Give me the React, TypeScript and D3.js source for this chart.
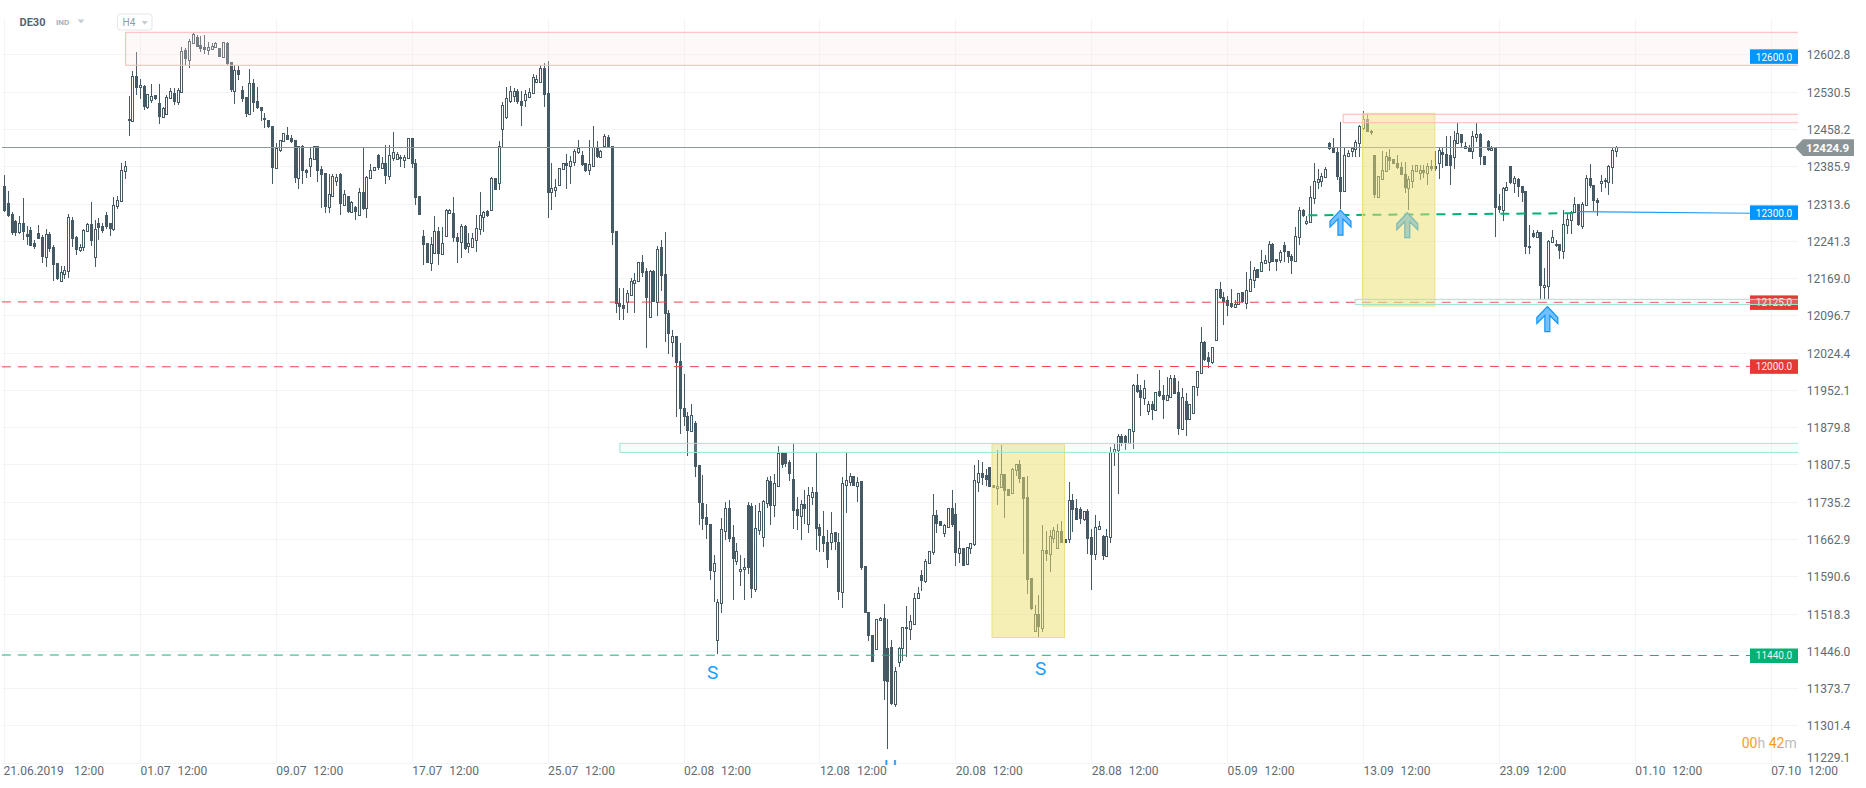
import React from "react";
import * as d3 from "d3";

type Row = [number, number, number, number]; // open, high, low, close

const juneCandles: Row[] = [
[12350,12371,12300,12302],[12317,12340,12289,12292],[12296,12300,12255,12259],[12282,12283,12252,12258],[12260,12291,12257,12278],[12278,12327,12245,12261],
[12257,12273,12236,12251],[12265,12271,12234,12234],[12240,12245,12228,12232],[12258,12274,12247,12247],[12251,12254,12201,12212],[12212,12266,12193,12256],
[12256,12261,12222,12228],[12232,12236,12166,12197],[12200,12201,12168,12170],[12166,12194,12166,12183],[12179,12195,12170,12187],[12184,12296,12172,12290],
[12284,12289,12232,12247],[12251,12253,12216,12226],[12226,12237,12222,12231],[12232,12267,12224,12264],[12262,12278,12262,12276],[12276,12319,12234,12243],
[12212,12284,12193,12267],[12278,12288,12245,12269],[12273,12278,12259,12263],[12294,12300,12267,12271],[12278,12278,12253,12267],[12267,12329,12263,12313],
[12311,12331,12306,12323],[12320,12395,12319,12381],[12378,12399,12364,12389],
];
const julyCandles: Row[] = [
[12479,12524,12447,12475],[12475,12573,12475,12563],[12563,12609,12526,12539],[12541,12557,12519,12545],[12544,12546,12497,12504],[12504,12528,12500,12528],
[12517,12548,12510,12525],[12526,12526,12517,12519],[12511,12547,12470,12484],[12484,12504,12483,12501],[12490,12526,12489,12522],[12520,12539,12520,12535],
[12531,12539,12506,12513],[12513,12539,12506,12536],[12533,12619,12533,12612],[12614,12617,12585,12596],[12594,12635,12578,12631],[12628,12647,12628,12645],
[12638,12643,12620,12620],[12623,12641,12610,12616],[12620,12643,12606,12614],[12614,12630,12604,12619],[12616,12627,12616,12621],[12620,12630,12620,12627],
[12618,12618,12601,12601],[12601,12630,12601,12629],[12627,12630,12585,12586],[12590,12590,12533,12536],[12535,12585,12509,12574],[12575,12583,12555,12565],
[12536,12544,12513,12519],[12523,12523,12484,12490],[12490,12577,12488,12549],[12549,12557,12494,12511],[12515,12541,12500,12502],[12504,12504,12475,12495],
[12481,12491,12462,12477],[12477,12477,12462,12464],[12466,12466,12354,12385],[12385,12433,12385,12423],[12420,12440,12416,12440],[12438,12452,12437,12452],
[12449,12464,12439,12439],[12442,12449,12434,12436],[12440,12440,12355,12366],[12366,12427,12344,12427],[12427,12430,12354,12378],[12381,12382,12365,12376],
[12389,12426,12368,12405],[12402,12428,12400,12427],[12427,12427,12357,12379],[12382,12389,12308,12371],[12375,12375,12297,12310],[12310,12374,12297,12334],
[12331,12373,12329,12370],[12360,12374,12349,12367],[12374,12376,12294,12314],[12313,12342,12311,12334],[12330,12330,12298,12300],[12300,12321,12297,12319],
[12310,12311,12283,12299],[12294,12345,12294,12338],[12338,12424,12303,12305],[12307,12370,12288,12368],[12366,12393,12365,12380],[12380,12387,12380,12387],
[12409,12411,12381,12385],[12385,12407,12384,12394],[12394,12429,12353,12370],[12370,12429,12361,12409],[12405,12455,12399,12416],[12403,12416,12402,12411],
[12407,12410,12387,12402],[12400,12409,12384,12407],[12405,12442,12403,12442],[12442,12443,12385,12392],[12394,12402,12312,12327],[12330,12330,12294,12294],
[12253,12264,12197,12235],[12239,12240,12200,12201],[12201,12250,12184,12237],[12219,12292,12219,12263],[12263,12271,12197,12217],[12218,12271,12218,12239],
[12252,12306,12252,12303],[12297,12306,12297,12303],[12297,12329,12242,12248],[12250,12258,12201,12242],[12242,12276,12210,12272],[12272,12274,12226,12227],
[12233,12258,12219,12239],[12231,12258,12229,12248],[12246,12294,12222,12268],[12266,12339,12255,12294],[12290,12302,12261,12300],[12301,12303,12289,12292],
[12303,12367,12303,12365],[12365,12365,12342,12342],[12356,12437,12342,12427],[12461,12513,12426,12506],[12483,12541,12479,12520],[12515,12543,12511,12535],
[12524,12539,12513,12535],[12534,12538,12509,12513],[12515,12534,12466,12505],[12517,12537,12504,12528],[12523,12539,12523,12532],[12531,12568,12528,12562],
[12552,12565,12552,12557],[12552,12584,12552,12579],[12579,12588,12504,12526],[12530,12592,12288,12337],[12339,12394,12303,12345],[12343,12364,12329,12348],
[12352,12384,12352,12384],[12382,12394,12380,12394],[12394,12412,12344,12389],[12389,12408,12354,12399],[12397,12422,12389,12417],[12415,12439,12412,12423],
[12409,12418,12389,12391],[12394,12394,12377,12379],[12380,12439,12371,12392],[12389,12466,12389,12425],[12424,12438,12404,12406],[12407,12420,12407,12417],
[12428,12450,12428,12446],[12444,12449,12425,12426],
];
const augustCandles: Row[] = [
[12427,12427,12235,12259],[12263,12263,12104,12121],[12122,12152,12090,12115],[12119,12151,12090,12111],[12125,12149,12103,12142],[12138,12171,12138,12166],
[12162,12182,12104,12168],[12166,12202,12166,12202],[12202,12216,12174,12182],[12185,12190,12036,12133],[12095,12187,12095,12185],[12185,12187,12124,12124],
[12124,12233,12098,12227],[12231,12246,12147,12176],[12179,12261,12048,12102],[12103,12109,12024,12063],[12048,12070,12019,12058],[12058,12058,11902,12007],
[12010,12045,11868,11918],[11920,11986,11885,11901],[11904,11912,11826,11875],[11875,11927,11873,11905],[11891,11893,11786,11805],[11808,11808,11692,11734],
[11734,11790,11682,11704],[11707,11733,11666,11693],[11695,11695,11585,11602],[11602,11634,11543,11618],[11470,11549,11442,11543],[11540,11705,11521,11684],
[11681,11737,11663,11725],[11725,11741,11660,11666],[11668,11693,11547,11626],[11623,11658,11615,11641],[11602,11634,11573,11606],[11606,11628,11547,11610],
[11731,11736,11597,11608],[11730,11734,11551,11569],[11569,11731,11563,11686],[11682,11734,11673,11719],[11668,11741,11650,11739],[11734,11786,11726,11779],
[11778,11787,11692,11730],[11731,11792,11708,11773],[11768,11846,11768,11831],[11831,11833,11802,11809],[11831,11831,11804,11810],[11814,11818,11778,11791],
[11781,11849,11685,11720],[11723,11747,11682,11710],[11710,11741,11663,11732],[11732,11760,11695,11723],[11694,11766,11676,11750],[11747,11766,11731,11756],
[11756,11831,11644,11685],[11688,11695,11640,11670],[11671,11719,11640,11655],[11659,11682,11609,11624],[11660,11718,11644,11677],[11678,11679,11644,11660],
[11660,11677,11547,11563],[11563,11785,11532,11773],[11770,11831,11715,11779],[11776,11794,11768,11787],[11787,11787,11768,11768],[11767,11786,11737,11776],
[11778,11778,11604,11609],[11613,11613,11522,11522],[11523,11523,11468,11476],[11479,11479,11427,11427],[11451,11510,11450,11509],[11507,11514,11506,11511],
[11511,11539,11353,11390],[11454,11510,11258,11388],[11455,11469,11343,11345],[11345,11417,11340,11409],[11427,11456,11417,11454],[11453,11495,11429,11495],
[11495,11535,11437,11490],[11490,11518,11469,11505],[11500,11560,11498,11550],[11550,11571,11550,11561],[11595,11604,11565,11584],[11584,11626,11579,11622],
[11619,11642,11618,11642],[11639,11752,11634,11711],[11711,11721,11676,11695],[11700,11700,11690,11690],[11677,11695,11668,11692],[11689,11726,11689,11725],
[11726,11760,11689,11692],[11713,11734,11613,11638],[11638,11680,11618,11647],[11647,11647,11613,11613],[11617,11649,11615,11649],[11647,11658,11636,11657],
[11655,11809,11652,11779],[11776,11818,11757,11794],[11794,11814,11770,11784],[11789,11801,11768,11779],[11804,11805,11765,11766],[11769,11769,11763,11763],
[11763,11838,11731,11767],[11765,11847,11763,11791],[11792,11792,11706,11758],[11762,11762,11748,11748],[11755,11802,11755,11800],[11798,11810,11788,11810],
[11810,11818,11774,11781],[11785,11785,11636,11743],[11746,11787,11558,11585],[11589,11589,11527,11529],[11487,11537,11487,11519],[11519,11556,11475,11494],
[11493,11692,11484,11643],[11643,11681,11622,11636],[11635,11682,11601,11671],[11667,11689,11657,11682],[11648,11694,11648,11680],[11680,11700,11658,11658],
[11666,11666,11657,11658],[11666,11775,11657,11740],[11740,11752,11679,11722],[11725,11743,11702,11702],[11723,11728,11695,11704],[11704,11719,11699,11719],
[11719,11723,11636,11665],[11668,11684,11566,11634],[11635,11712,11624,11688],[11685,11700,11683,11690],[11671,11673,11624,11633],[11633,11684,11633,11670],
[11668,11843,11658,11834],[11834,11849,11807,11839],[11837,11868,11752,11864],[11864,11868,11846,11851],[11864,11867,11838,11851],[11851,11878,11851,11878],
];
const septemberCandles: Row[] = [
[11875,11966,11840,11964],[11964,11985,11949,11951],[11954,11964,11903,11938],[11938,11974,11925,11958],[11913,11932,11906,11927],[11927,11932,11896,11916],
[11916,11951,11916,11951],[11952,11993,11941,11943],[11945,11964,11898,11934],[11934,11980,11934,11944],[11940,11983,11940,11977],[11978,11983,11947,11947],
[11950,11972,11867,11879],[11879,11957,11879,11940],[11932,11948,11864,11896],[11898,11927,11897,11927],[11910,11961,11910,11961],[11959,11991,11943,11991],
[11988,12076,11988,12047],[12048,12049,12011,12013],[12018,12027,11996,12008],[12009,12037,12005,12037],[12051,12150,12050,12150],[12150,12163,12131,12133],
[12135,12144,12081,12125],[12128,12136,12097,12118],[12122,12150,12113,12116],[12115,12129,12113,12121],[12121,12143,12120,12142],[12144,12144,12122,12124],
[12122,12183,12111,12148],[12146,12204,12146,12169],[12167,12192,12152,12187],[12188,12188,12171,12172],[12185,12225,12185,12203],[12201,12216,12200,12206],
[12203,12244,12185,12237],[12237,12239,12203,12203],[12209,12209,12184,12203],[12207,12226,12201,12221],[12235,12242,12203,12222],[12223,12223,12201,12212],
[12214,12218,12180,12205],[12205,12271,12203,12252],[12251,12310,12236,12303],[12303,12305,12289,12291],[12278,12291,12274,12282],[12280,12350,12280,12329],
[12326,12394,12315,12359],[12357,12382,12344,12363],[12359,12376,12348,12370],[12367,12386,12367,12383],[12433,12436,12419,12421],[12425,12443,12413,12413],
[12415,12423,12361,12368],[12368,12474,12305,12339],[12341,12423,12341,12410],[12408,12420,12406,12413],[12417,12426,12407,12424],[12421,12439,12406,12435],
[12433,12468,12407,12467],[12463,12496,12459,12479],[12480,12491,12454,12454],[12457,12459,12449,12452],[12410,12410,12327,12333],[12329,12370,12328,12369],
[12364,12418,12363,12381],[12379,12415,12378,12408],[12407,12421,12381,12399],[12402,12402,12392,12392],[12394,12410,12383,12384],[12386,12397,12371,12372],
[12374,12397,12337,12345],[12346,12370,12304,12363],[12360,12391,12346,12381],[12379,12390,12378,12390],[12376,12391,12362,12381],[12381,12391,12365,12376],
[12376,12394,12352,12389],[12389,12401,12378,12383],[12388,12418,12378,12382],[12395,12426,12364,12419],[12416,12426,12384,12409],[12412,12446,12388,12388],
[12409,12446,12351,12388],[12407,12457,12382,12439],[12434,12473,12433,12452],[12450,12450,12426,12433],[12428,12436,12421,12422],[12426,12430,12415,12416],
[12417,12457,12402,12447],[12444,12473,12436,12451],[12451,12452,12390,12407],[12408,12408,12390,12390],[12437,12439,12418,12419],[12419,12428,12417,12423],
[12425,12425,12251,12308],[12311,12335,12297,12303],[12303,12347,12281,12346],[12343,12357,12341,12347],[12389,12389,12354,12355],[12355,12370,12337,12365],
[12363,12366,12328,12348],[12349,12350,12318,12336],[12340,12340,12218,12231],[12234,12274,12218,12229],[12258,12265,12249,12250],[12250,12265,12250,12261],
[12261,12261,12131,12155],[12153,12190,12131,12157],[12155,12245,12131,12243],[12241,12265,12240,12251],[12238,12245,12231,12234],[12237,12238,12208,12223],
[12223,12304,12208,12276],[12274,12295,12257,12285],[12284,12302,12257,12299],[12299,12328,12299,12315],[12315,12315,12273,12274],[12273,12318,12267,12315],
[12313,12372,12312,12366],[12365,12392,12346,12349],[12352,12352,12302,12320],[12323,12326,12291,12317],[12355,12371,12339,12359],[12362,12366,12346,12357],
[12357,12391,12333,12388],[12386,12425,12354,12420],[12417,12428,12406,12426],
];
const candles: Row[] = [...juneCandles, ...julyCandles, ...augustCandles, ...septemberCandles];

const priceTicks = [12602.8,12530.5,12458.2,12385.9,12313.6,12241.3,12169.0,12096.7,12024.4,11952.1,11879.8,11807.5,11735.2,11662.9,11590.6,11518.3,11446.0,11373.7,11301.4,11229.1];
const dateLabels = ["21.06.2019","01.07","09.07","17.07","25.07","02.08","12.08","20.08","28.08","05.09","13.09","23.09","01.10","07.10"];
const lastPrice = 12424.9;

const levelLines = [
  { from: 12125.0, to: 12124.0, color: "#ef4444", label: "12125.0", fill: "#e53935" },
  { from: 11999.0, to: 12000.0, color: "#ef4444", label: "12000.0", fill: "#e53935" },
  { from: 11440.0, to: 11439.0, color: "#12b184", label: "11440.0", fill: "#00b274" },
];
const zones = [
  { start: 32.1, top: 12648, bottom: 12584, stroke: "#ffb7b7", fill: "rgba(255,228,228,0.26)" },
  { start: 354.6, top: 12489, bottom: 12472.6, stroke: "#ffb7b7", fill: "rgba(255,228,228,0.26)" },
  { start: 163, top: 11850.6, bottom: 11833, stroke: "#9ee8cd", fill: "rgba(200,245,230,0.16)" },
  { start: 357.8, top: 12130, bottom: 12120, stroke: "#9ee8cd", fill: "rgba(200,245,230,0.2)" },
];
const shadedBoxes = [
  { start: 261.6, end: 280.8, top: 11849.3, bottom: 11474 },
  { start: 359.7, end: 378.9, top: 12490.8, bottom: 12117 },
];
const upArrows = [
  { at: 353.9, price: 12303 },
  { at: 408.7, price: 12116 },
  { at: 371.6, price: 12298 },
];
const letterMarks = [
  { at: 187.6, price: 11393, text: "S", size: 19 },
  { at: 274.5, price: 11402, text: "S", size: 19 },
  { at: 234.7, price: 11212, text: "H", size: 19 },
];
const supportSegment = { start: 345.4, end: 415.7, from: 12293, to: 12297 };
const sideLine = { start: 416.5, end: 462.5, from: 12300, to: 12297 };
const axisPrices = { blue: { price: 12300, text: "12300.0" }, topBlue: { price: 12600, text: "12600.0" } };

const W = 1866, H = 788;
const chartLeft = 2, chartRight = 1798, chartBottom = 763, chartTop = 18;
const FONT = "Roboto, sans-serif";

export default function App() {
  const y = d3.scaleLinear().domain([12424.9, 11440]).range([147.3, 655]);
  const x = d3.scaleLinear().domain([0, 36]).range([4.5, 140.4]);
  const line = d3.line<[number, number]>().x((d) => x(d[0])).y((d) => y(d[1]));
  const gridRow = (v: number) => Math.round(y(v) - 1.1) + 0.5;
  const gridCols = dateLabels.map((_, k) => Math.floor(x(k * 36)) + 0.5);
  const candleColor = "#455a64";

  const arrow = (a: { at: number; price: number }, k: number) => {
    const cx = x(a.at), t = y(a.price);
    const d = `M${cx},${t} L${cx + 10.5},${t + 11} L${cx + 10.5},${t + 17} L${cx + 2.5},${t + 9} L${cx + 2.5},${t + 25} L${cx - 2.5},${t + 25} L${cx - 2.5},${t + 9} L${cx - 10.5},${t + 17} L${cx - 10.5},${t + 11} Z`;
    return <path key={k} d={d} fill="#73bfff" stroke="#0f97ff" strokeWidth={1.2} />;
  };

  const axisLabel = (p: { price: number; text: string }, boxOffset: number, textOffset: number) => (
    <g key={p.text}>
      <rect x={1750} y={y(p.price) - boxOffset} width={48} height={14.5} fill="#0095ff" />
      <text x={1774} y={y(p.price) + textOffset} fontSize={10} fill="#fff" textAnchor="middle">{p.text}</text>
    </g>
  );

  return (
    <svg width={W} height={H} viewBox={`0 0 ${W} ${H}`} style={{ position: "fixed", left: 0, top: 0, display: "block", background: "#fff" }} fontFamily={FONT}>
      <defs>
        <clipPath id="plot"><rect x={chartLeft} y={0} width={chartRight - chartLeft} height={chartBottom + 2} /></clipPath>
      </defs>
      <g shapeRendering="crispEdges" stroke="#f3f4f5" strokeWidth={1}>
        {priceTicks.map((v) => <line key={v} x1={chartLeft} x2={chartRight} y1={gridRow(v)} y2={gridRow(v)} />)}
        {gridCols.map((c, k) => <line key={k} x1={c} x2={c} y1={chartTop} y2={chartBottom} />)}
      </g>

      <g shapeRendering="crispEdges">
        {candles.map(([o, h, l, c], i) => {
          const cx = Math.floor(x(i)) + 0.5;
          const up = c >= o;
          const top = Math.round(y(Math.max(o, c)));
          const bot = Math.round(y(Math.min(o, c)));
          return (
            <g key={i}>
              <line x1={cx} x2={cx} y1={Math.round(y(h))} y2={Math.round(y(l))} stroke={candleColor} strokeWidth={1} />
              {up ? (
                <rect x={cx - 1} y={top + 0.5} width={2} height={Math.max(bot - top, 1)} fill="#fff" stroke={candleColor} strokeWidth={1} />
              ) : (
                <rect x={cx - 1.5} y={top} width={3} height={Math.max(bot - top, 2)} fill={candleColor} />
              )}
            </g>
          );
        })}
      </g>

      <line x1={chartLeft} x2={1795} y1={147.5} y2={147.5} stroke="#8f999b" strokeWidth={1.2} />

      {axisLabel(axisPrices.blue, 6.3, 5)}
      {levelLines.map((L) => (
        <g key={L.label}>
          <rect x={1750} y={y(L.to) - 7} width={48} height={14.5} fill={L.fill} />
          <text x={1774} y={y(L.to) + 3.4} fontSize={10} fill="#fff" textAnchor="middle" opacity={0.9}>{L.label}</text>
          <path d={line([[-0.7, L.from], [462.4, L.to]]) || ""} fill="none" stroke={L.color} strokeWidth={1} strokeDasharray="9 7" />
        </g>
      ))}

      <path d={line([[supportSegment.start, supportSegment.from], [supportSegment.end, supportSegment.to]]) || ""} fill="none" stroke="#00b274" strokeWidth={2} strokeDasharray="9 7" />
      <path d={line([[sideLine.start, sideLine.from], [sideLine.end, sideLine.to]]) || ""} fill="none" stroke="#1e98f5" strokeWidth={1.2} />

      {upArrows.map(arrow)}

      {shadedBoxes.map((b, k) => (
        <rect key={k} x={x(b.start)} y={y(b.top)} width={x(b.end) - x(b.start)} height={y(b.bottom) - y(b.top)}
          fill="rgb(236,223,110)" fillOpacity={0.5} stroke="#ecdf7f" strokeWidth={1} />
      ))}

      <g clipPath="url(#plot)">
        {zones.map((z, k) => (
          <rect key={k} x={x(z.start)} y={y(z.top)} width={chartRight + 4 - x(z.start)} height={y(z.bottom) - y(z.top)}
            fill={z.fill} stroke={z.stroke} strokeWidth={1} />
        ))}
        {letterMarks.map((m, k) => (
          <text key={k} x={x(m.at)} y={y(m.price)} fontSize={m.size} fill="#1c9bff" textAnchor="middle">{m.text}</text>
        ))}
      </g>

      {axisLabel(axisPrices.topBlue, 7.7, 3.6)}

      <g fontSize={12} fill="#606c72">
        {priceTicks.map((v) => {
          const yy = v === 11229.1 ? 757.7 : gridRow(v);
          return <text key={v} x={1806.7} y={yy} dy={4.3}>{v.toFixed(1)}</text>;
        })}
        {dateLabels.map((d, k) => (
          <g key={d}>
            <text x={k === 0 ? 3.5 : x(k * 36)} y={775}>{d}</text>
            <text x={k === 0 ? 74 : x(k * 36) + 37} y={775}>12:00</text>
          </g>
        ))}
      </g>

      <path d="M1795,147.5 L1803,139.3 L1854,139.3 L1854,156 L1803,156 Z" fill="#8a9497" />
      <text x={1806} y={152} fontSize={11.6} fontWeight={700} fill="#fff">{lastPrice.toFixed(1)}</text>

      <text x={1796.7} y={747.7} fontSize={14} textAnchor="end">
        <tspan fill="#ff9c1f">00</tspan><tspan fill="#bdbdbd">h </tspan><tspan fill="#ff9c1f">42</tspan><tspan fill="#bdbdbd">m</tspan>
      </text>

      <text x={19.5} y={26} fontSize={11} fontWeight={700} fill="#55656e">DE30</text>
      <text x={56} y={25} fontSize={8} fontWeight={700} fill="#a3b3bc">IND</text>
      <path d="M77.5,19.5 L84.5,19.5 L81,23.5 Z" fill="#c5cdd2" />
      <rect x={117.5} y={14} width={34.5} height={16} rx={2.5} fill="#fff" stroke="#e3e6e8" />
      <text x={122.5} y={25.5} fontSize={10} fill="#8f9ba3">H4</text>
      <path d="M141.5,21 L148,21 L144.7,24.7 Z" fill="#c5cdd2" />
    </svg>
  );
}
